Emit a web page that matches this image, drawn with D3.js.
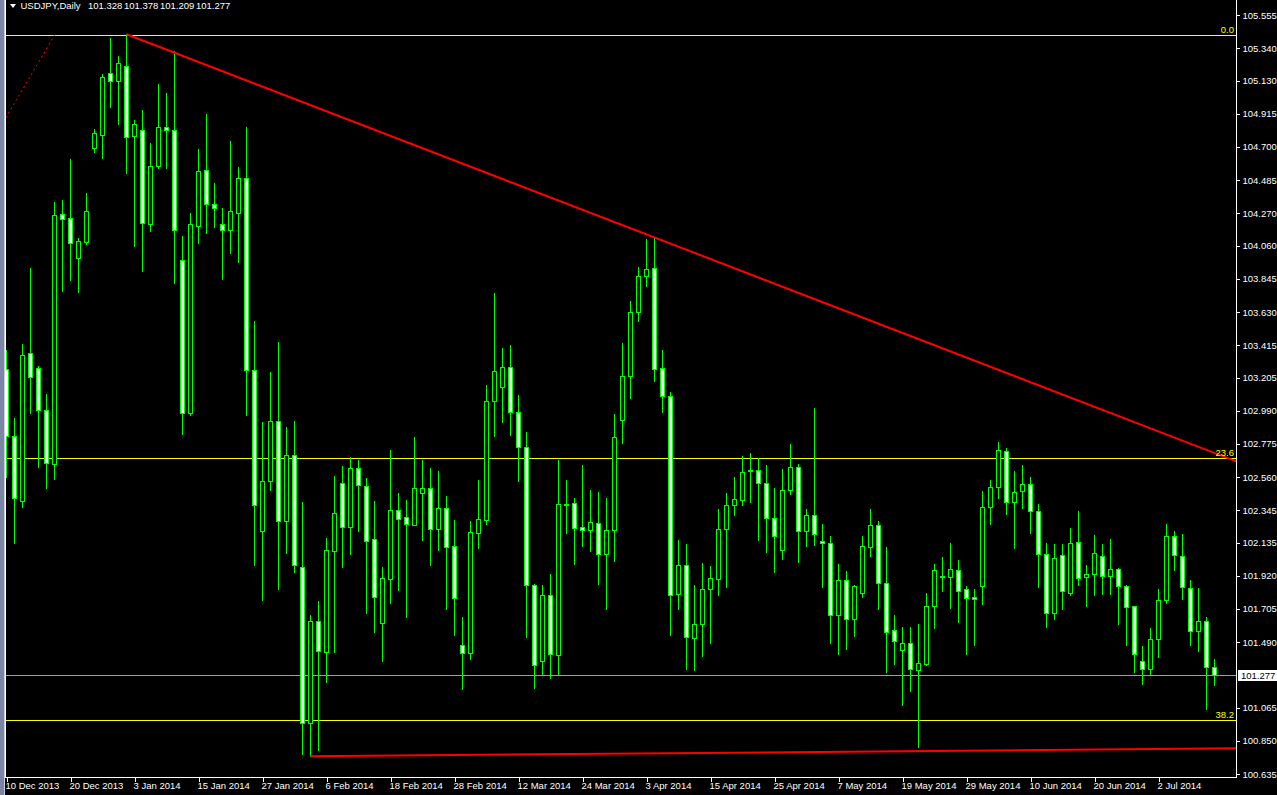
<!DOCTYPE html>
<html><head><meta charset="utf-8">
<script src="https://cdn.jsdelivr.net/npm/d3@7"></script>
<style>html,body{margin:0;padding:0;background:#000;overflow:hidden}</style>
</head><body>
<svg id="c" width="1277" height="795"></svg>
<script>
// ---- data ----
const symbol = "USDJPY,Daily";
const dateLabels = ["10 Dec 2013","20 Dec 2013","3 Jan 2014","15 Jan 2014","27 Jan 2014","6 Feb 2014","18 Feb 2014","28 Feb 2014","12 Mar 2014","24 Mar 2014","3 Apr 2014","15 Apr 2014","25 Apr 2014","7 May 2014","19 May 2014","29 May 2014","10 Jun 2014","20 Jun 2014","2 Jul 2014"];
const labelEvery = 8; // one date label every 8 bars
const opens = [103.258,102.828,102.406,103.361,103.265,102.996,102.646,104.268,104.242,103.982,104.086,104.695,104.779,105.182,105.129,105.223,104.772,104.808,104.203,104.573,104.832,104.808,103.965,102.973,104.190,104.549,104.333,104.198,104.159,104.274,104.501,103.251,102.209,102.532,102.922,102.273,102.700,101.975,100.967,101.627,101.425,102.083,102.519,102.238,102.616,102.500,102.156,101.616,101.901,102.344,102.299,102.251,102.454,102.487,102.221,102.357,102.111,101.469,101.421,102.199,102.284,103.050,103.141,103.271,102.983,102.752,101.858,101.369,101.793,101.408,102.388,102.389,102.234,102.219,102.260,102.059,102.214,102.927,103.212,103.627,103.861,103.913,103.264,103.083,101.799,101.987,101.514,101.605,101.832,101.897,102.221,102.376,102.409,102.605,102.603,102.519,102.292,102.089,102.478,102.623,102.212,102.312,102.143,102.130,101.668,101.891,101.642,101.811,102.109,102.247,101.875,101.566,101.441,101.482,101.307,101.350,101.722,101.916,101.914,101.955,101.832,101.780,101.852,102.364,102.493,102.727,102.396,102.472,102.513,102.338,102.059,101.681,102.053,101.811,102.137,101.910,101.929,102.046,101.916,101.962,101.852,101.722,101.365,101.314,101.508,101.761,102.176,102.046,101.839,101.560,101.625,101.328];
const highs = [103.383,102.941,103.421,103.915,103.280,103.097,104.342,104.354,104.621,104.107,104.400,104.815,105.172,105.405,105.290,105.429,104.875,104.940,104.726,105.108,105.050,105.322,104.122,104.271,104.687,104.914,104.468,104.305,104.737,104.569,104.830,103.571,102.917,103.243,103.437,102.886,102.925,102.400,101.664,101.759,102.164,102.567,102.631,102.690,102.670,102.554,102.404,101.977,102.735,102.456,102.411,102.819,102.670,102.618,102.599,102.437,102.281,101.653,102.275,102.541,103.154,103.753,103.396,103.413,103.091,102.852,101.866,101.858,101.931,102.670,102.540,102.424,102.638,102.476,102.463,102.424,102.968,103.429,103.701,103.921,104.103,104.113,103.383,103.111,102.152,102.126,101.860,102.003,101.983,102.353,102.456,102.560,102.696,102.716,102.685,102.638,102.489,102.612,102.774,102.644,102.353,103.007,102.255,102.178,101.996,101.951,101.860,102.178,102.353,102.277,102.107,101.666,101.588,101.588,101.607,101.808,101.996,102.042,102.133,102.022,101.854,101.834,102.470,102.541,102.787,102.748,102.599,102.638,102.560,102.385,102.133,102.126,102.126,102.230,102.340,101.990,102.184,102.126,102.158,101.973,101.862,101.722,101.465,101.582,101.834,102.256,102.210,102.191,101.893,101.841,101.651,101.378];
const lows = [102.562,102.133,102.365,102.977,102.627,102.490,102.548,103.767,103.839,103.762,104.071,104.669,104.630,104.961,104.851,104.532,104.059,103.896,104.155,104.565,104.565,103.816,102.841,102.965,104.077,104.139,104.181,103.844,104.013,103.954,102.959,101.987,101.762,102.473,101.832,102.065,101.942,100.764,100.750,100.790,101.231,101.428,101.979,102.061,102.212,101.681,101.557,101.370,101.743,101.828,101.655,102.251,102.152,101.990,102.089,101.707,101.538,101.188,101.380,102.102,102.258,102.828,102.916,102.834,102.536,101.525,101.194,101.274,101.259,101.285,102.199,101.998,102.115,102.082,101.864,101.706,102.018,102.782,103.074,103.573,103.800,103.184,102.983,101.538,101.707,101.318,101.311,101.402,101.486,101.797,101.849,102.316,102.381,102.400,102.152,102.076,101.946,102.031,102.452,102.011,102.115,102.121,101.849,101.486,101.413,101.445,101.530,101.785,102.050,101.707,101.298,101.348,101.082,101.173,100.812,101.344,101.584,101.821,101.713,101.623,101.413,101.471,101.739,102.258,102.426,102.323,102.102,102.362,102.199,101.849,101.590,101.642,101.707,101.798,101.862,101.726,101.798,101.804,101.804,101.610,101.474,101.298,101.221,101.279,101.396,101.746,101.960,101.772,101.474,101.435,101.054,101.209];
const closes = [102.826,102.421,103.354,103.210,102.996,102.648,104.256,104.230,104.078,104.093,104.287,104.789,105.151,105.129,105.242,104.767,104.846,104.206,104.573,104.827,104.808,104.159,102.973,104.198,104.541,104.333,104.302,104.164,104.282,104.501,103.251,102.377,102.532,102.922,102.273,102.700,101.989,100.967,101.627,101.433,102.085,102.325,102.238,102.616,102.510,102.147,101.784,101.903,102.344,102.290,102.253,102.487,102.487,102.221,102.357,102.108,101.774,101.421,102.201,102.286,103.050,103.245,103.271,102.983,102.757,101.862,101.339,101.793,101.415,102.383,102.380,102.227,102.214,102.266,102.059,102.214,102.817,103.212,103.627,103.861,103.906,103.258,103.083,101.793,101.987,101.521,101.605,101.832,101.903,102.221,102.376,102.415,102.590,102.601,102.519,102.292,102.180,102.476,102.623,102.212,102.312,102.188,102.130,101.668,101.891,101.642,101.852,102.111,102.247,101.875,101.558,101.499,101.482,101.318,101.353,101.722,101.955,101.912,101.962,101.824,101.774,101.767,102.364,102.493,102.733,102.396,102.461,102.513,102.338,102.059,101.681,102.033,101.819,102.130,101.903,101.929,102.066,101.916,101.962,101.852,101.716,101.411,101.314,101.508,101.761,102.176,102.053,101.845,101.560,101.625,101.327,101.277];
const priceTicks = [105.555,105.340,105.130,104.915,104.700,104.485,104.270,104.060,103.845,103.630,103.415,103.205,102.990,102.775,102.560,102.345,102.135,101.920,101.705,101.490,101.065,100.850,100.635];
const fiboLevels = [0.0, 23.6, 38.2];
const fiboHigh = 105.424, fiboLow = 93.80;
const fiboAnchors = [[-126, 93.80], [6, 105.424]];       // [bar index, price]
const trendAnchors = [[15, 105.43], [81, 104.113]];
const supportAnchors = [[38, 100.75], [151, 100.80]];

// ---- layout ----
const W = 1277, H = 795;
const plotL = 5, plotR = 1236, plotB = 777;
const n = opens.length;
const x = d3.scaleLinear().domain([0, n - 1]).range([6.5, 6.5 + 8 * (n - 1)]);
const y = d3.scaleLinear().domain([100.635, 105.555]).range([774, 15]);
const font = "'Liberation Sans', Arial, sans-serif";
const lime = "#00ff00";

const svg = d3.select("#c");
svg.append("rect").attr("width", W).attr("height", H).attr("fill", "#000");
svg.append("defs").append("clipPath").attr("id", "clip")
  .append("rect").attr("x", plotL + 1).attr("y", 0).attr("width", plotR - plotL - 1).attr("height", plotB);

const plot = svg.append("g").attr("clip-path", "url(#clip)");

// fibo level lines
fiboLevels.forEach(lv => {
  const p = fiboHigh - lv / 100 * (fiboHigh - fiboLow);
  const yy = Math.round(y(p)) + 0.5;
  plot.append("line").attr("x1", plotL).attr("x2", plotR).attr("y1", yy).attr("y2", yy)
    .attr("stroke", "#ffff00").attr("stroke-width", 1).attr("shape-rendering", "crispEdges");
  svg.append("text").attr("x", 1234).attr("y", yy - 2.5).attr("text-anchor", "end")
    .attr("fill", "#ffff00").attr("font-family", font).attr("font-size", 9.5).text(lv.toFixed(1));
});

// current price line
const curY = Math.round(y(closes[n - 1])) + 0.5;
plot.append("line").attr("x1", plotL).attr("x2", plotR).attr("y1", curY).attr("y2", curY)
  .attr("stroke", "#9ca0a6").attr("stroke-width", 1).attr("shape-rendering", "crispEdges");

// fibo dotted diagonal
plot.append("line")
  .attr("x1", x(fiboAnchors[0][0])).attr("y1", y(fiboAnchors[0][1]))
  .attr("x2", x(fiboAnchors[1][0])).attr("y2", y(fiboAnchors[1][1]))
  .attr("stroke", "#ff0000").attr("stroke-width", 1).attr("stroke-dasharray", "2,3");

// candles
const g = plot.append("g");
for (let i = 0; i < n; i++) {
  const o = opens[i], h = highs[i], l = lows[i], c = closes[i];
  const cx = Math.round(x(i) - 0.5) + 0.5;
  const yh = Math.round(y(h)), yl = Math.round(y(l));
  g.append("line").attr("x1", cx).attr("x2", cx).attr("y1", yh).attr("y2", yl + 1)
    .attr("stroke", lime).attr("stroke-width", 1).attr("shape-rendering", "crispEdges");
  const top = Math.round(y(Math.max(o, c))), bot = Math.round(y(Math.min(o, c)));
  if (bot - top < 1) {
    g.append("line").attr("x1", cx - 2.5).attr("x2", cx + 2.5).attr("y1", top + 0.5).attr("y2", top + 0.5)
      .attr("stroke", lime).attr("stroke-width", 1).attr("shape-rendering", "crispEdges");
  } else {
    g.append("rect").attr("x", cx - 2).attr("y", top + 0.5).attr("width", 4).attr("height", bot - top)
      .attr("fill", c >= o ? "#000" : "#fff").attr("stroke", lime).attr("stroke-width", 1)
      .attr("shape-rendering", "crispEdges");
  }
}

// trend lines (rays extended to the right edge)
function ray(a, b, sw) {
  const x1 = x(a[0]), y1 = y(a[1]);
  const slope = (y(b[1]) - y1) / (x(b[0]) - x1);
  const x2 = plotR + 2;
  plot.append("line").attr("x1", x1).attr("y1", y1).attr("x2", x2).attr("y2", y1 + slope * (x2 - x1))
    .attr("stroke", "#ff0000").attr("stroke-width", sw);
}
ray(trendAnchors[0], trendAnchors[1], 2);
ray(supportAnchors[0], supportAnchors[1], 2);

// frame
svg.append("rect").attr("x", 0).attr("y", 0).attr("width", 4).attr("height", H).attr("fill", "#7a86a2");
svg.append("line").attr("x1", 4.5).attr("x2", 4.5).attr("y1", 0).attr("y2", H).attr("stroke", "#c8cedc");
svg.append("line").attr("x1", 5.5).attr("x2", 5.5).attr("y1", 0).attr("y2", plotB + 0.5).attr("stroke", "#fff").attr("shape-rendering", "crispEdges");

// right price axis
const ay = svg.append("g").attr("transform", `translate(${plotR + 0.5},0)`)
  .call(d3.axisRight(y).tickValues(priceTicks).tickSize(3).tickPadding(3).tickFormat(d3.format(".3f")));
ay.select(".domain").remove();
ay.selectAll(".tick line").attr("stroke", "#fff").attr("shape-rendering", "crispEdges");
ay.selectAll(".tick text").attr("fill", "#fff").attr("font-family", font).attr("font-size", 9.5);
svg.append("line").attr("x1", plotR + 0.5).attr("x2", plotR + 0.5).attr("y1", 0).attr("y2", plotB + 0.5)
  .attr("stroke", "#fff").attr("shape-rendering", "crispEdges");

// bottom time axis
const tickIdx = dateLabels.map((d, k) => k * labelEvery);
const ax = svg.append("g").attr("transform", `translate(0,${plotB + 0.5})`)
  .call(d3.axisBottom(x).tickValues(tickIdx).tickSize(4).tickPadding(2).tickFormat((d, k) => dateLabels[k]));
ax.select(".domain").remove();
ax.selectAll(".tick line").attr("stroke", "#fff").attr("shape-rendering", "crispEdges");
ax.selectAll(".tick text").attr("fill", "#fff").attr("font-family", font).attr("font-size", 9.5)
  .attr("text-anchor", "start").attr("x", -1.5).attr("dy", "0.62em");
svg.append("line").attr("x1", plotL).attr("x2", plotR + 1).attr("y1", plotB + 0.5).attr("y2", plotB + 0.5)
  .attr("stroke", "#fff").attr("shape-rendering", "crispEdges");

// current price box
svg.append("rect").attr("x", plotR + 2).attr("y", curY - 5.5).attr("width", W - plotR - 2).attr("height", 11).attr("fill", "#fff");
svg.append("text").attr("x", plotR + 5).attr("y", curY + 3.5).attr("fill", "#000")
  .attr("font-family", font).attr("font-size", 9.5).text(closes[n - 1].toFixed(3));

// header
svg.append("path").attr("d", "M10,4 L16,4 L13,8 Z").attr("fill", "#fff");
const hdr = svg.append("text").attr("y", 9).attr("fill", "#fff").attr("font-family", font).attr("font-size", 9.5);
hdr.append("tspan").attr("x", 20.5).text(symbol);
[opens[n - 1], highs[n - 1], lows[n - 1], closes[n - 1]].forEach((v, k) => {
  hdr.append("tspan").attr("x", 88 + k * 36).text(v.toFixed(3));
});
</script>
</body></html>
